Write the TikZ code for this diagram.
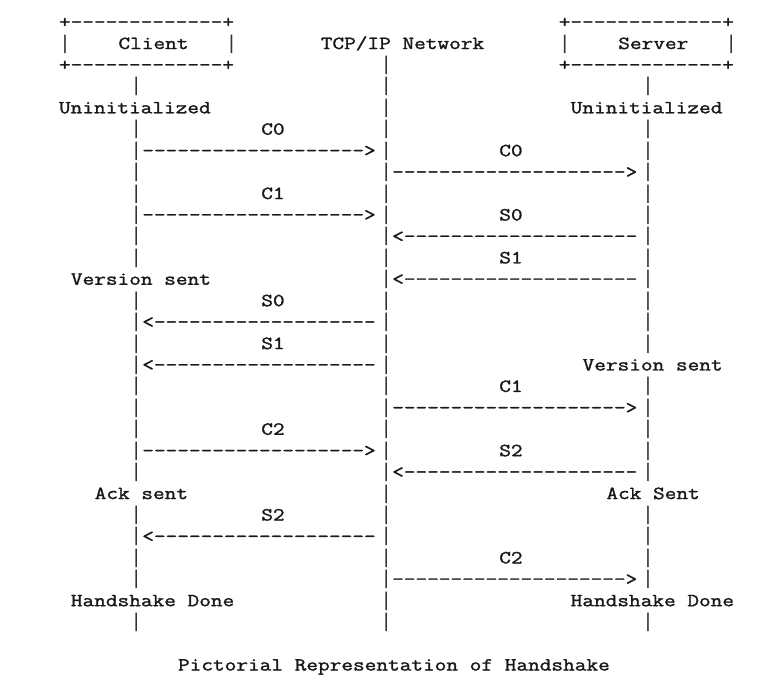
\documentclass[tikz,border=0pt]{standalone}
\usepackage{fontspec}
\setmonofont{Latin Modern Mono}[FakeStretch=1.225,FakeBold=1.5]
\newfontfamily\pipefont{Liberation Mono}
\newcommand\Dten{----------}
\newcommand\Dnine{---------}
\newcommand\Dthree{---}
\tikzset{
  txt/.style={anchor=base west, inner sep=0pt, outer sep=0pt,
    font=\ttfamily\fontsize{18.5pt}{21.43pt}\selectfont, text=black!90},
  pipe/.style={anchor=base west, inner sep=0pt, outer sep=0pt,
    font=\pipefont\fontsize{19.83pt}{21.43pt}\selectfont, text=black!80},
}
\begin{document}
\begin{tikzpicture}[x=1pt,y=1pt]
\useasboundingbox[fill=white] (0,0) rectangle (778,-691);
\begin{scope}[x=11.9pt,y=-21.43pt,shift={(59pt,-27.6pt)}]
% boxes and headers
\node[txt] (cboxtop) at (0,0) {+\Dten\Dthree+};
\node[txt] (sboxtop) at (42,0) {+\Dten\Dthree+};
\node[pipe] (cboxl) at (0,1) {|};
\node[txt] (client) at (5,1) {Client};
\node[pipe] (cboxr) at (14,1) {|};
\node[txt] (network) at (22,1) {TCP/IP Network};
\node[pipe] (sboxl) at (42,1) {|};
\node[txt] (server) at (47,1) {Server};
\node[pipe] (sboxr) at (56,1) {|};
\node[txt] (cboxbot) at (0,2) {+\Dten\Dthree+};
\node[txt] (sboxbot) at (42,2) {+\Dten\Dthree+};
% lifelines
\foreach \r in {3,5,6,7,8,9,10,11,13,14,15,16,17,18,19,20,21,23,24,25,26,28}
  \node[pipe] (cpipe\r) at (6,\r) {|};
\foreach \r in {2,3,...,28}
  \node[pipe] (npipe\r) at (27,\r) {|};
\foreach \r in {3,5,6,7,8,9,10,11,12,13,14,15,17,18,19,20,21,23,24,25,26,28}
  \node[pipe] (spipe\r) at (49,\r) {|};
% states
\node[txt] (cuninit) at (0,4) {Uninitialized};
\node[txt] (suninit) at (43,4) {Uninitialized};
\node[txt] (cver) at (1,12) {Version sent};
\node[txt] (sver) at (44,16) {Version sent};
\node[txt] (cack) at (3,22) {Ack sent};
\node[txt] (sack) at (46,22) {Ack Sent};
\node[txt] (cdone) at (1,27) {Handshake Done};
\node[txt] (sdone) at (43,27) {Handshake Done};
% messages client <-> network
\node[txt] (lc0) at (17,5) {C0};
\node[txt] (ac0) at (7,6) {\Dten\Dnine>};
\node[txt] (lc1) at (17,8) {C1};
\node[txt] (ac1) at (7,9) {\Dten\Dnine>};
\node[txt] (ls0) at (17,13) {S0};
\node[txt] (as0) at (7,14) {<\Dten\Dnine};
\node[txt] (ls1) at (17,15) {S1};
\node[txt] (as1) at (7,16) {<\Dten\Dnine};
\node[txt] (lc2) at (17,19) {C2};
\node[txt] (ac2) at (7,20) {\Dten\Dnine>};
\node[txt] (ls2) at (17,23) {S2};
\node[txt] (as2) at (7,24) {<\Dten\Dnine};
% messages network <-> server
\node[txt] (rc0) at (37,6) {C0};
\node[txt] (bc0) at (28,7) {\Dten\Dten>};
\node[txt] (rs0) at (37,9) {S0};
\node[txt] (bs0) at (28,10) {<\Dten\Dten};
\node[txt] (rs1) at (37,11) {S1};
\node[txt] (bs1) at (28,12) {<\Dten\Dten};
\node[txt] (rc1) at (37,17) {C1};
\node[txt] (bc1) at (28,18) {\Dten\Dten>};
\node[txt] (rs2) at (37,20) {S2};
\node[txt] (bs2) at (28,21) {<\Dten\Dten};
\node[txt] (rc2) at (37,25) {C2};
\node[txt] (bc2) at (28,26) {\Dten\Dten>};
% caption
\node[txt] (caption) at (10,30) {Pictorial Representation of Handshake};
\end{scope}
\end{tikzpicture}
\end{document}
